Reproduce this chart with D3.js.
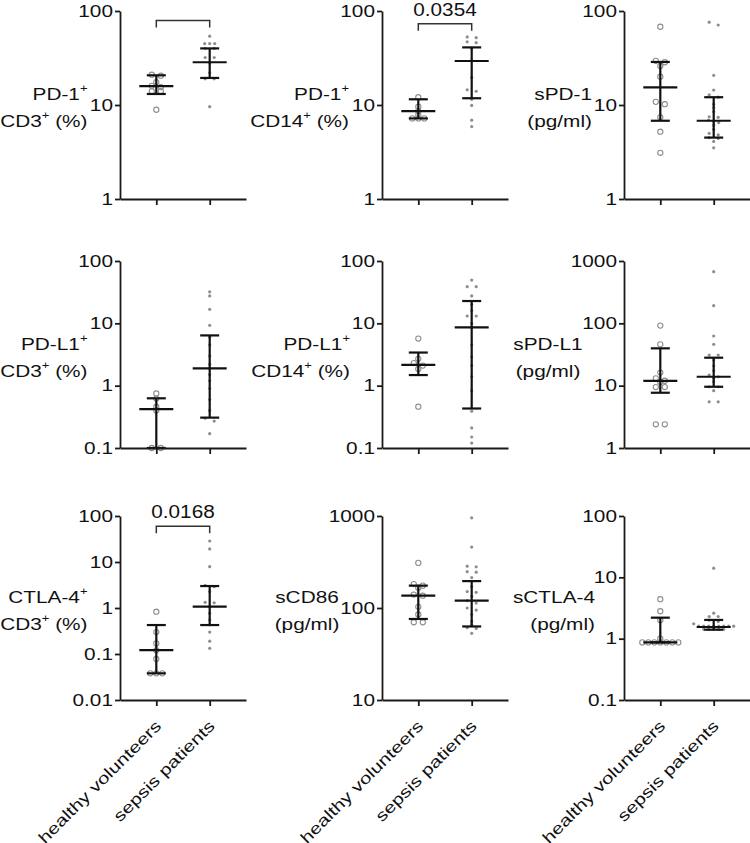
<!DOCTYPE html>
<html><head><meta charset="utf-8">
<script src="https://cdn.jsdelivr.net/npm/d3@7"></script>
<style>
body{margin:0;background:#fff}
svg{display:block}
text{font-family:"Liberation Sans",Arial,Helvetica,sans-serif;fill:#111}
</style>
</head><body>
<svg id="c" width="750" height="843"></svg>
<script>
// ---------- DATA ----------
const groups = ["healthy volunteers", "sepsis patients"];

const yLabels = [
  ["PD-1^+", "CD3^+ (%)"],
  ["PD-1^+", "CD14^+ (%)"],
  ["sPD-1", "(pg/ml)"],
  ["PD-L1^+", "CD3^+ (%)"],
  ["PD-L1^+", "CD14^+ (%)"],
  ["sPD-L1", "(pg/ml)"],
  ["CTLA-4^+", "CD3^+ (%)"],
  ["sCD86", "(pg/ml)"],
  ["sCTLA-4", "(pg/ml)"]
];

const yDomains = [[1,100],[1,100],[1,100],[0.1,100],[0.1,100],[1,1000],[0.01,100],[10,1000],[0.1,100]];
const yTickLabels = [
  ["1","10","100"],["1","10","100"],["1","10","100"],
  ["0.1","1","10","100"],["0.1","1","10","100"],["1","10","100","1000"],
  ["0.01","0.1","1","10","100"],["10","100","1000"],["0.1","1","10","100"]
];

const pd1Cd3Healthy   = [21, 20.5, 17.5, 16, 15.5, 14, 14, 8.9];
const pd1Cd3Sepsis    = [54, 45, 45, 45, 40, 40, 32, 32, 28, 22, 19, 19, 9.6];
const pd1Cd14Healthy  = [12.1, 9.6, 8.6, 7.8, 7.2, 7.2, 7.2];
const pd1Cd14Sepsis   = [53, 52, 47, 46, 40, 29.5, 19.7, 14.5, 14, 11.5, 9.9, 6.9, 5.9];
const sPd1Healthy     = [68, 29.5, 28.5, 26, 20, 10.8, 10.2, 7.4, 5.2, 3.1];
const sPd1Sepsis      = [76, 71, 20.7, 14.4, 12.8, 12.1, 10.2, 9.4, 8.5, 7.5, 7.4, 6.9, 6.7, 6.5, 6.1, 5.5, 5.0, 4.8, 4.5, 4.4, 4.1, 3.5];
const pdl1Cd3Healthy  = [0.75, 0.62, 0.46, 0.40, 0.1, 0.1];
const pdl1Cd3Sepsis   = [32, 27.5, 16.8, 9.3, 6, 4.5, 3, 2.2, 1.9, 1.5, 1.2, 0.9, 0.6, 0.4, 0.3, 0.27, 0.17];
const pdl1Cd14Healthy = [5.7, 2.7, 2.3, 2.1, 1.85, 0.46];
const pdl1Cd14Sepsis  = [49.5, 38.7, 38.7, 27.5, 20, 16, 13.1, 13.1, 10, 8.6, 4.5, 2.9, 2.1, 1.4, 0.83, 0.39, 0.21, 0.15, 0.12];
const sPdl1Healthy    = [92, 46, 16.2, 13.1, 12, 11.5, 9.5, 9.5, 2.4, 2.4];
const sPdl1Sepsis     = [674, 192, 62.6, 46, 31, 31, 25.7, 20.7, 17.4, 14.8, 13.9, 13.1, 11.6, 9.6, 9.6, 8.3, 5.5, 5.5];
const ctla4Cd3Healthy = [0.83, 0.30, 0.17, 0.12, 0.078, 0.038, 0.038, 0.038];
const ctla4Cd3Sepsis  = [28.6, 19.2, 7.9, 3.1, 2.9, 2.27, 1.33, 1.3, 1.07, 0.77, 0.55, 0.43, 0.30, 0.19, 0.133];
const sCd86Healthy    = [309, 182, 175, 166, 140, 136, 103, 85, 70, 70];
const sCd86Sepsis     = [955, 460, 285, 280, 248, 245, 214, 171, 151, 148, 134, 120, 113, 100, 95, 85, 72, 66, 61, 60, 53];
const sCtla4Healthy   = [4.4, 2.8, 2.0, 1.0, 0.87, 0.87, 0.87, 0.87, 0.87, 0.87, 0.87];
const sCtla4Sepsis    = [14.1, 2.6, 2.3, 2.3, 2.0, 1.9, 1.75, 1.6, 1.6, 1.6, 1.6, 1.6, 1.6, 1.6, 1.6, 1.42, 1.42, 1.42, 1.42, 1.42];

const healthySets = [pd1Cd3Healthy, pd1Cd14Healthy, sPd1Healthy, pdl1Cd3Healthy, pdl1Cd14Healthy, sPdl1Healthy, ctla4Cd3Healthy, sCd86Healthy, sCtla4Healthy];
const sepsisSets  = [pd1Cd3Sepsis, pd1Cd14Sepsis, sPd1Sepsis, pdl1Cd3Sepsis, pdl1Cd14Sepsis, sPdl1Sepsis, ctla4Cd3Sepsis, sCd86Sepsis, sCtla4Sepsis];

// median and interquartile range [healthy, sepsis]
const medians  = [[15.9,28.5],[8.6,29.4],[15.4,6.8],[0.42,1.9],[2.15,8.6],[11.9,13.9],[0.122,1.07],[136,120],[0.87,1.55]];
const lowerIQR = [[13.1,19.4],[7.2,11.8],[6.8,4.5],[0.1,0.307],[1.48,0.43],[7.7,9.6],[0.038,0.426],[76,63],[0.87,1.4]];
const upperIQR = [[20.7,40],[11.5,41],[28.7,12.1],[0.627,6.4],[3.4,22.8],[39.7,28.1],[0.426,3.0],[175,196],[2.2,2.02]];

// significance brackets: level (in data units) and p-value text
const bracketLevels = [79, 73, null, null, null, null, 60, null, null];
const pValues       = ["", "0.0354", "", "", "", "", "0.0168", "", ""];

// ---------- LAYOUT ----------
const colX = [120, 382, 624];
const rowY = [[11,199],[261,448],[516,700]];
const plotW = 126;
const labelAnchor = ["end","end","end","end","end","middle","end","middle","end"];
const labelDx = [-32.5,-33,-32,-32.5,-32,-76,-32.5,-75,-29];
const TX = 1.3; // horizontal text stretch

const svg = d3.select("#c");

function swarm(vals, y, s, pairHalf, thr) {
  const pts = vals.map(v => ({v, py: y(v)})).sort((a,b) => a.py - b.py);
  const clusters = []; let cur = [];
  pts.forEach(p => {
    if (cur.length && p.py - cur[0].py > thr) { clusters.push(cur); cur = []; }
    cur.push(p);
  });
  if (cur.length) clusters.push(cur);
  clusters.forEach(c => {
    const n = c.length;
    c.forEach((p,i) => { p.dx = n === 2 ? (i ? pairHalf : -pairHalf) : (i - (n-1)/2) * s; });
  });
  return pts;
}

function writeLine(sel, str) {
  const idx = str.indexOf("^");
  if (idx < 0) { sel.append("tspan").text(str); return; }
  sel.append("tspan").text(str.slice(0, idx));
  sel.append("tspan").attr("font-size", 10).attr("dy", -8).text(str.slice(idx+1, idx+2));
  const rest = str.slice(idx+2);
  if (rest) sel.append("tspan").attr("dy", 8).text(rest);
}

for (let i = 0; i < 9; i++) {
  const col = i % 3, row = Math.floor(i / 3);
  const x0 = colX[col], top = rowY[row][0], bottom = rowY[row][1];
  const g = svg.append("g").attr("transform", `translate(${x0},0)`);
  const x = d3.scalePoint().domain(groups).range([0, plotW]).padding(0.68);
  const y = d3.scaleLog().domain(yDomains[i]).range([bottom, top]);
  const tickVals = yTickLabels[i].map(Number);

  // points
  const hp = swarm(healthySets[i], y, 6, 4.5, 3);
  g.append("g").selectAll("circle").data(hp).join("circle")
    .attr("cx", d => x(groups[0]) + d.dx).attr("cy", d => d.py).attr("r", 2.6)
    .attr("fill", "none").attr("stroke", "#8e8e8e").attr("stroke-width", 1.1);
  const sp = swarm(sepsisSets[i], y, 5, 4.5, 3);
  g.append("g").selectAll("circle").data(sp).join("circle")
    .attr("cx", d => x(groups[1]) + d.dx).attr("cy", d => d.py).attr("r", 1.6)
    .attr("fill", "#8e8e8e");

  // median + IQR bars
  groups.forEach((grp, k) => {
    const cx = x(grp);
    const bg = g.append("g").attr("stroke", "#111").attr("stroke-width", 2.2).attr("fill", "none");
    bg.append("line").attr("x1", cx).attr("x2", cx).attr("y1", y(lowerIQR[i][k])).attr("y2", y(upperIQR[i][k]));
    bg.append("line").attr("x1", cx-17).attr("x2", cx+17).attr("y1", y(medians[i][k])).attr("y2", y(medians[i][k]));
    [lowerIQR[i][k], upperIQR[i][k]].forEach(v => {
      bg.append("line").attr("x1", cx-9.5).attr("x2", cx+9.5).attr("y1", y(v)).attr("y2", y(v));
    });
  });

  // y axis
  const ya = g.append("g").call(d3.axisLeft(y).tickValues(tickVals)
      .tickFormat((d, j) => yTickLabels[i][j]).tickSize(5).tickSizeOuter(0).tickPadding(2));
  ya.select(".domain").attr("stroke", "#1a1a1a").attr("stroke-width", 1.8);
  ya.selectAll(".tick line").attr("stroke", "#1a1a1a").attr("stroke-width", 1.8);
  ya.selectAll(".tick text").attr("x", 0).attr("font-size", 16).attr("font-family", null)
    .attr("fill", "#111").attr("transform", `translate(-7,0) scale(${TX},1)`);

  // x axis
  const xa = g.append("g").attr("transform", `translate(0,${bottom})`)
    .call(d3.axisBottom(x).tickSize(6).tickSizeOuter(0).tickFormat(row === 2 ? (d => d) : ""));
  xa.select(".domain").attr("stroke", "#1a1a1a").attr("stroke-width", 1.8);
  xa.selectAll(".tick line").attr("stroke", "#1a1a1a").attr("stroke-width", 1.8);
  xa.selectAll(".tick text").attr("y", 0).attr("dy", null).attr("font-size", 16).attr("font-family", null)
    .attr("fill", "#111").attr("text-anchor", "end")
    .attr("transform", "translate(5.5,27) rotate(-45) scale(1.28,1)");

  // y label
  const mid = (top + bottom) / 2;
  yLabels[i].forEach((line, li) => {
    const t = g.append("text").attr("font-size", 16).attr("text-anchor", labelAnchor[i])
      .attr("transform", `translate(${labelDx[i]},${mid - 5 + li * 27}) scale(${TX},1)`);
    writeLine(t, line);
  });

  // bracket
  if (bracketLevels[i] != null) {
    const yb = y(bracketLevels[i]);
    const xa1 = x(groups[0]), xa2 = x(groups[1]);
    g.append("path").attr("d", `M${xa1},${yb+7}V${yb}H${xa2}V${yb+7}`)
      .attr("fill", "none").attr("stroke", "#333").attr("stroke-width", 1.5);
    if (pValues[i]) {
      g.append("text").attr("font-size", 18.5).attr("text-anchor", "middle")
        .attr("transform", `translate(${(xa1+xa2)/2},${yb - 8}) scale(1.12,1)`).text(pValues[i]);
    }
  }
}
</script>
</body></html>
